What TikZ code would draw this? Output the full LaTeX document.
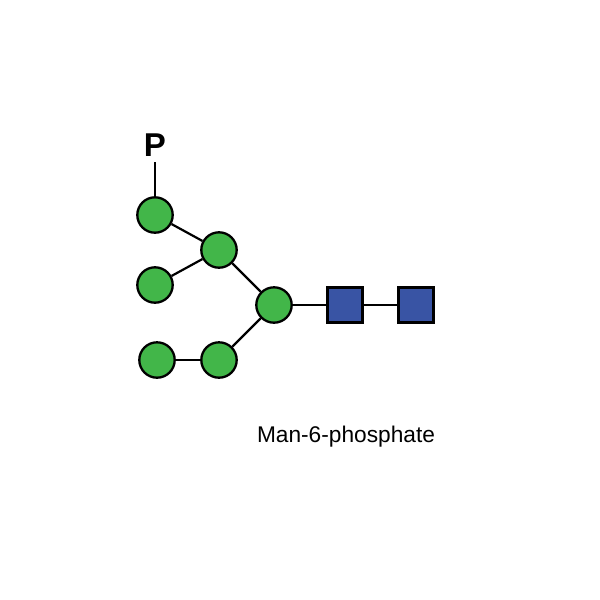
\documentclass[tikz,border=0pt]{standalone}
\usepackage{fontspec}
\setmainfont{Liberation Sans}
\definecolor{mangreen}{RGB}{66,182,73}
\definecolor{glcblue}{RGB}{57,84,164}
\tikzset{
  man/.style={circle, draw=black, line width=1.15pt, fill=mangreen, minimum size=17.7pt, inner sep=0pt},
  glcnac/.style={rectangle, draw=black, line width=1.15pt, fill=glcblue, minimum size=17.5pt, inner sep=0pt},
  bond/.style={line width=1.1pt}
}
\begin{document}
\begin{tikzpicture}[x=0.5pt,y=-0.5pt]
            \useasboundingbox (0,0) rectangle (600,600);
            \node [man] (m1) at (155,215) {};
            \node [man] (m2) at (219,250) {};
            \node [man] (m3) at (155,285) {};
            \node [man] (m4) at (274,305) {};
            \node [man] (m5) at (157,360) {};
            \node [man] (m6) at (219,360) {};
            \node [glcnac] (g1) at (345,305) {};
            \node [glcnac] (g2) at (416,305) {};
            \node [font=\fontsize{16.5}{19}\selectfont\bfseries, inner sep=0pt] (p) at (155,145) {P};
            \coordinate (pb) at (155,162);
            \draw [bond] (pb) -- (m1);
            \draw [bond] (m1) -- (m2);
            \draw [bond] (m3) -- (m2);
            \draw [bond] (m2) -- (m4);
            \draw [bond] (m6) -- (m4);
            \draw [bond] (m5) -- (m6);
            \draw [bond] (m4) -- (g1);
            \draw [bond] (g1) -- (g2);
            \node [font=\fontsize{11.35}{14}\selectfont] (lbl) at (346,437) {Man-6-phosphate};
        \end{tikzpicture}
\end{document}
